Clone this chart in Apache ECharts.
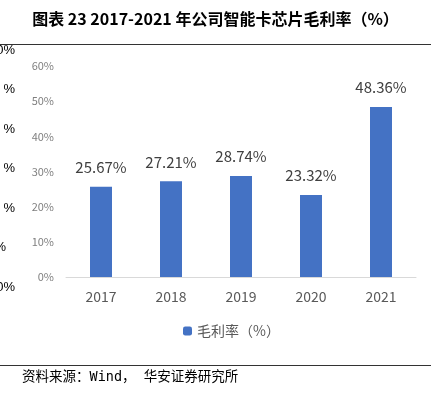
<!DOCTYPE html>
<html>
<head>
<meta charset="utf-8">
<style>
html, body { margin: 0; padding: 0; background: #fff; }
#chart { width: 431px; height: 397px; }
</style>
<script src="https://cdn.jsdelivr.net/npm/echarts@6/dist/echarts.min.js"></script>
</head>
<body>
<div id="chart"></div>
<script>
const titleText = '图表 23 2017-2021 年公司智能卡芯片毛利率（%）'
const sourceText = '资料来源：Wind， 华安证券研究所'
const years = ['2017', '2018', '2019', '2020', '2021']
const grossMargin = [25.67, 27.21, 28.74, 23.32, 48.36]
const seriesName = '毛利率（%）'
// clipped tick labels of the neighbouring chart, only their right ends show
const leftTicks = ['0%', '%', '%', '%', '%', '%', '0%']

let myChart = echarts.init(document.getElementById('chart'))

const leftGraphics = leftTicks.map((t, i) => ({
  type: 'text',
  x: i === 5 ? 6 : 15,
  y: 50 + i * 39.5,
  style: { text: t, font: '13px "Liberation Sans", sans-serif', fill: '#000', align: 'right', verticalAlign: 'middle' }
}))

myChart.setOption({
  animation: false,
  textStyle: { fontFamily: '"Noto Sans CJK SC", "Noto Sans", sans-serif' },
  title: {
    text: titleText,
    left: 'center',
    top: 6,
    textStyle: { fontSize: 16, fontWeight: 'bold', color: '#000', fontFamily: '"Noto Sans CJK SC", sans-serif' }
  },
  graphic: [
    { type: 'line', shape: { x1: 0, y1: 44.5, x2: 431, y2: 44.5 }, style: { stroke: '#333', lineWidth: 1 } },
    { type: 'line', shape: { x1: 0, y1: 365.5, x2: 431, y2: 365.5 }, style: { stroke: '#333', lineWidth: 1 } },
    {
      type: 'text', left: 22, top: 371,
      style: { text: sourceText, font: '13.5px "DejaVu Sans Mono", "Noto Sans CJK SC", monospace', fill: '#000' }
    }
  ].concat(leftGraphics),
  legend: {
    data: [seriesName],
    bottom: 54,
    left: 178,
    itemWidth: 9,
    itemHeight: 9,
    itemGap: 4,
    textStyle: { fontSize: 14, color: '#595959' }
  },
  grid: { left: 66, right: 15, top: 66, bottom: 120 },
  xAxis: {
    type: 'category',
    data: years,
    axisLine: { lineStyle: { color: '#d9d9d9' } },
    axisTick: { show: false },
    axisLabel: { fontSize: 14, color: '#595959', margin: 13 }
  },
  yAxis: {
    type: 'value',
    min: 0,
    max: 60,
    interval: 10,
    splitLine: { show: false },
    axisLine: { show: false },
    axisTick: { show: false },
    axisLabel: { formatter: '{value}%', fontSize: 11, color: '#7f7f7f', margin: 12 }
  },
  series: [
    {
      name: seriesName,
      type: 'bar',
      data: grossMargin,
      barWidth: 22,
      itemStyle: { color: '#4472c4' },
      label: {
        show: true,
        position: 'top',
        distance: 12,
        formatter: p => p.value.toFixed(2) + '%',
        fontSize: 15,
        color: '#404040'
      }
    }
  ]
})
</script>
</body>
</html>
